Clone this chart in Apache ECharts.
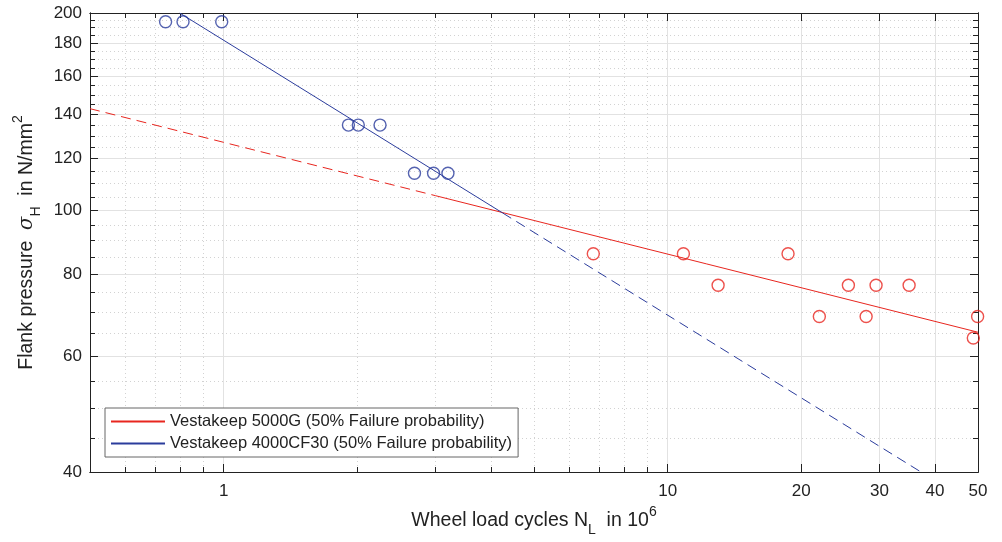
<!DOCTYPE html>
<html>
<head>
<meta charset="utf-8">
<script src="https://cdn.jsdelivr.net/npm/echarts@6/dist/echarts.min.js"></script>
<style>
  html, body { margin: 0; padding: 0; background: #fff; }
  #main { width: 1002px; height: 542px; }
</style>
</head>
<body>
<div id="main"></div>
<script>
// measured points (N_L in 10^6, sigma_H in N/mm^2)
var cf30X = [0.74, 0.81, 0.99, 1.91, 2.01, 2.25, 2.69, 2.97, 3.2];
var cf30Y = [194, 194, 194, 135, 135, 135, 114, 114, 114];
var g5000X = [6.8, 10.85, 12.99, 18.67, 21.96, 25.53, 27.99, 29.47, 34.98, 48.8, 49.9];
var g5000Y = [86, 86, 77, 86, 69, 77, 69, 77, 77, 64, 69];

// fit lines: [start, end of solid part / start of dashed, end]
var cf30FitX = [0.796, 4.25, 37.2];
var cf30FitY = [200, 99.2, 40];
var g5000FitX = [0.5, 3, 50];
var g5000FitY = [143, 105.4, 65.3];

// ticks
var xMajor = [1, 10, 20, 30, 40, 50];
var xMinor = [0.6, 0.7, 0.8, 0.9, 2, 3, 4, 5, 6, 7, 8, 9];
var yMajor = [40, 60, 80, 100, 120, 140, 160, 180, 200];
var yMinor = [45, 50, 55, 65, 70, 75, 85, 90, 95, 105, 110, 115, 125, 130, 135, 145, 150, 155, 165, 170, 175, 185, 190, 195];

var nameG = "Vestakeep 5000G (50% Failure probability)";
var nameCF = "Vestakeep 4000CF30 (50% Failure probability)";
var red = "#e8261f";
var blue = "#2b3c9c";
var ink = "#222";
var font = "Liberation Sans, Arial, sans-serif";

function pairs(xs, ys, from, to) {
  var out = [];
  for (var i = from; i <= to; i++) out.push([xs[i], ys[i]]);
  return out;
}
function fmt(v) {
  return String(Math.round(v * 10) / 10);
}

var titleRich = {
  a: { fontSize: 19.5, lineHeight: 32, fontFamily: font, color: ink, verticalAlign: "middle" },
  sub: { fontSize: 14, lineHeight: 14, fontFamily: font, color: ink, verticalAlign: "bottom" },
  sup: { fontSize: 14, lineHeight: 14, fontFamily: font, color: ink, verticalAlign: "top" },
  sig: { fontSize: 19.5, lineHeight: 32, fontFamily: "DejaVu Serif, serif", fontStyle: "italic", color: ink, verticalAlign: "middle" }
};

function xAxisDef(pos, major, showLabel) {
  var ticks = major ? xMajor : xMinor;
  return {
    type: "log", logBase: 10, min: 0.5, max: 50, position: pos,
    axisLine: { show: true, onZero: false, lineStyle: { color: ink, width: 1 } },
    axisTick: { show: true, inside: true, length: major ? 8 : 5, customValues: ticks, lineStyle: { color: ink } },
    axisLabel: showLabel ? {
      show: true, customValues: xMajor, formatter: fmt, margin: 11,
      fontSize: 17, fontFamily: font, color: ink
    } : { show: false },
    splitLine: (pos === "bottom") ? {
      show: true,
      lineStyle: major ? { color: "#e2e2e2", width: 1 } : { color: "#d2d2d2", width: 1, type: [1, 3] }
    } : { show: false },
    minorTick: { show: false }, minorSplitLine: { show: false }
  };
}
function yAxisDef(pos, major, showLabel) {
  var ticks = major ? yMajor : yMinor;
  return {
    type: "log", logBase: 10, min: 40, max: 200, position: pos,
    axisLine: { show: true, onZero: false, lineStyle: { color: ink, width: 1 } },
    axisTick: { show: true, inside: true, length: major ? 8 : 5, customValues: ticks, lineStyle: { color: ink } },
    axisLabel: showLabel ? {
      show: true, customValues: yMajor, formatter: fmt, margin: 8,
      fontSize: 17, fontFamily: font, color: ink
    } : { show: false },
    splitLine: (pos === "left") ? {
      show: true,
      lineStyle: major ? { color: "#e2e2e2", width: 1 } : { color: "#d2d2d2", width: 1, type: [1, 3] }
    } : { show: false },
    minorTick: { show: false }, minorSplitLine: { show: false }
  };
}

var xAxes = [xAxisDef("bottom", true, true), xAxisDef("bottom", false, false), xAxisDef("top", true, false), xAxisDef("top", false, false)];
xAxes[0].name = "{a|Wheel load cycles N}{sub|L}{a|  in 10}{sup|6}";
xAxes[0].nameLocation = "middle";
xAxes[0].nameGap = 27;
xAxes[0].nameTextStyle = { rich: titleRich };

var yAxes = [yAxisDef("left", true, true), yAxisDef("left", false, false), yAxisDef("right", true, false), yAxisDef("right", false, false)];
yAxes[0].name = "{a|Flank pressure  }{sig|σ}{sub|H}{a|  in N/mm}{sup|2}";
yAxes[0].nameLocation = "middle";
yAxes[0].nameGap = 47;
yAxes[0].nameTextStyle = { rich: titleRich };

var option = {
  animation: false,
  backgroundColor: "#fff",
  grid: { left: 90, right: 24, top: 13, bottom: 70, containLabel: false },
  legend: {
    data: [nameG, nameCF],
    orient: "vertical",
    left: 105, top: 408,
    padding: [5, 6, 5, 5],
    itemGap: 5, itemWidth: 54, itemHeight: 14,
    backgroundColor: "#fff", borderColor: "#666", borderWidth: 1, borderRadius: 0,
    itemStyle: { color: "rgba(0,0,0,0)", borderWidth: 0 },
    textStyle: { fontSize: 16.5, fontFamily: font, color: ink }
  },
  xAxis: xAxes,
  yAxis: yAxes,
  series: [
    {
      name: nameG, type: "line", symbol: "none", clip: true,
      lineStyle: { color: red, width: 1 }, itemStyle: { color: red },
      data: pairs(g5000FitX, g5000FitY, 1, 2)
    },
    {
      name: "5000G extrapolation", type: "line", symbol: "none", clip: true,
      lineStyle: { color: red, width: 1, type: [10, 6] },
      data: pairs(g5000FitX, g5000FitY, 0, 1)
    },
    {
      name: nameCF, type: "line", symbol: "none", clip: true,
      lineStyle: { color: blue, width: 1 }, itemStyle: { color: blue },
      data: pairs(cf30FitX, cf30FitY, 0, 1)
    },
    {
      name: "4000CF30 extrapolation", type: "line", symbol: "none", clip: true,
      lineStyle: { color: blue, width: 1, type: [10, 6] },
      data: pairs(cf30FitX, cf30FitY, 1, 2)
    },
    {
      name: "5000G tests", type: "scatter", symbol: "circle", symbolSize: 12,
      itemStyle: { color: "rgba(0,0,0,0)", borderColor: red, borderWidth: 1.4 },
      data: pairs(g5000X, g5000Y, 0, g5000X.length - 1)
    },
    {
      name: "4000CF30 tests", type: "scatter", symbol: "circle", symbolSize: 12,
      itemStyle: { color: "rgba(0,0,0,0)", borderColor: blue, borderWidth: 1.4 },
      data: pairs(cf30X, cf30Y, 0, cf30X.length - 1)
    }
  ]
};

var myChart = echarts.init(document.getElementById("main"), null, { renderer: "canvas" });
myChart.setOption(option);
</script>
</body>
</html>
